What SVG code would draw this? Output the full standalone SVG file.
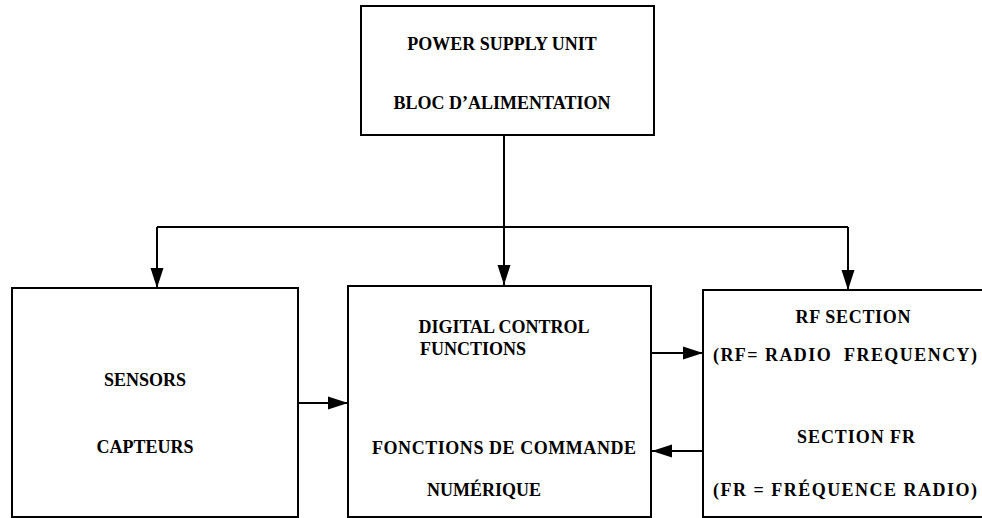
<svg xmlns="http://www.w3.org/2000/svg" width="982" height="518" viewBox="0 0 982 518">
<defs>
<style>
.box{fill:#fff;stroke:#000;stroke-width:2}
.t{font-family:"Liberation Serif","Times New Roman",serif;font-weight:bold;font-size:18px;fill:#000;text-anchor:middle}
.c{fill:none;stroke:#000;stroke-width:2}
</style>
<marker id="ah" markerWidth="21" markerHeight="14" refX="20" refY="7" orient="auto" markerUnits="userSpaceOnUse">
<path d="M0,0.5 L20,7 L0,13.5 Z" fill="#000"/>
</marker>
</defs>
<rect width="982" height="518" fill="#fff"/>
<g id="connectors">
<path class="c" d="M504,135 V285" marker-end="url(#ah)"/>
<path class="c" d="M157,227 H848"/>
<path class="c" d="M157,227 V288" marker-end="url(#ah)"/>
<path class="c" d="M848,227 V290" marker-end="url(#ah)"/>
<path class="c" d="M298,403 H348" marker-end="url(#ah)"/>
<path class="c" d="M651,353 H703" marker-end="url(#ah)"/>
<path class="c" d="M703,451 H652" marker-end="url(#ah)"/>
</g>
<g id="power">
<rect class="box" x="361" y="6" width="293" height="129"/>
<text class="t" x="502" y="50">POWER SUPPLY UNIT</text>
<text class="t" x="502" y="109">BLOC D’ALIMENTATION</text>
</g>
<g id="sensors">
<rect class="box" x="12" y="288" width="286" height="229"/>
<text class="t" x="145" y="386">SENSORS</text>
<text class="t" x="145" y="453">CAPTEURS</text>
</g>
<g id="digital">
<rect class="box" x="348" y="286" width="303" height="231"/>
<text class="t" x="504" y="333">DIGITAL CONTROL</text>
<text class="t" x="473" y="355">FUNCTIONS</text>
<text class="t" x="504" y="454" textLength="264" lengthAdjust="spacing">FONCTIONS DE COMMANDE</text>
<text class="t" x="484" y="496">NUMÉRIQUE</text>
</g>
<g id="rf">
<rect class="box" x="703" y="290" width="300" height="227"/>
<text class="t" x="853" y="323" textLength="115" lengthAdjust="spacing">RF SECTION</text>
<text class="t" x="845" y="361" xml:space="preserve" textLength="264" lengthAdjust="spacing">(RF= RADIO  FREQUENCY)</text>
<text class="t" x="856" y="443" textLength="118" lengthAdjust="spacing">SECTION FR</text>
<text class="t" x="845" y="496" textLength="264" lengthAdjust="spacing">(FR = FRÉQUENCE RADIO)</text>
</g>
</svg>
